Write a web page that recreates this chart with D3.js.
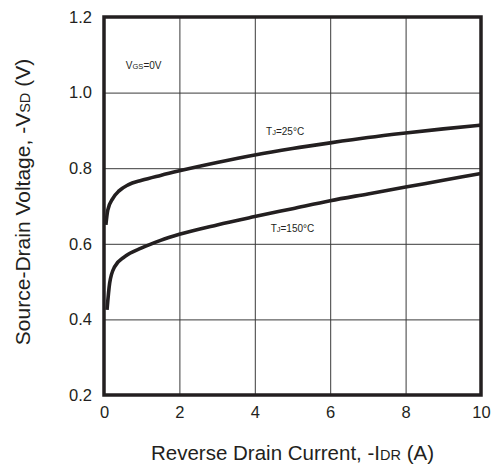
<!DOCTYPE html>
<html>
<head>
<meta charset="utf-8">
<script src="https://cdn.jsdelivr.net/npm/d3@7"></script>
<style>
  html, body { margin: 0; padding: 0; background: #fff; }
  svg { display: block; font-family: "Liberation Sans", Arial, sans-serif; }
</style>
</head>
<body>
<svg id="chart" width="496" height="465"></svg>
<script>
// Reverse drain current (A) and source-drain voltage (V) for each junction temperature
const current25 = [0.05, 0.1, 0.24, 0.4, 0.64, 1, 1.5, 2, 3, 4, 5, 6, 7, 8, 9, 10];
const voltage25 = [0.650, 0.689, 0.721, 0.740, 0.756, 0.768, 0.781, 0.793, 0.815, 0.835, 0.852, 0.867, 0.881, 0.893, 0.904, 0.914];

const current150 = [0.08, 0.15, 0.28, 0.55, 1, 1.5, 2, 3, 4, 5, 6, 7, 8, 9, 10];
const voltage150 = [0.425, 0.496, 0.539, 0.566, 0.589, 0.609, 0.625, 0.650, 0.672, 0.693, 0.714, 0.732, 0.750, 0.768, 0.786];

const xTicks = [0, 2, 4, 6, 8, 10];
const yTicks = [0.2, 0.4, 0.6, 0.8, 1.0, 1.2];

const svg = d3.select("#chart");
const plot = { left: 104, right: 481, top: 17, bottom: 395 };
const ink = "#231f20";
const font = "'Liberation Sans', Arial, sans-serif";

const x = d3.scaleLinear().domain([0, 10]).range([plot.left, plot.right]);
const y = d3.scaleLinear().domain([0.2, 1.2]).range([plot.bottom, plot.top]);

// grid lines
const grid = svg.append("g").attr("class", "grid");
grid.append("g")
  .attr("transform", `translate(0,${plot.bottom})`)
  .call(d3.axisBottom(x).tickValues(xTicks.slice(1, -1)).tickSize(-(plot.bottom - plot.top)).tickFormat(""))
  .call(g => g.select(".domain").remove())
  .call(g => g.selectAll("line").attr("stroke", "#3a3a3a").attr("stroke-width", 1));
grid.append("g")
  .attr("transform", `translate(${plot.left},0)`)
  .call(d3.axisLeft(y).tickValues(yTicks.slice(1, -1)).tickSize(-(plot.right - plot.left)).tickFormat(""))
  .call(g => g.select(".domain").remove())
  .call(g => g.selectAll("line").attr("stroke", "#3a3a3a").attr("stroke-width", 1));

// tick labels
svg.append("g")
  .attr("transform", `translate(0,${plot.bottom})`)
  .call(d3.axisBottom(x).tickValues(xTicks).tickSize(0).tickPadding(11).tickFormat(d3.format("d")))
  .call(g => g.select(".domain").remove())
  .call(g => g.selectAll("text").attr("font-size", 16.5).attr("fill", ink).attr("font-family", font));

svg.append("g")
  .attr("transform", `translate(${plot.left},0)`)
  .call(d3.axisLeft(y).tickValues(yTicks).tickSize(0).tickPadding(12).tickFormat(d3.format(".1f")))
  .call(g => g.select(".domain").remove())
  .call(g => g.selectAll("text").attr("font-size", 16.5).attr("fill", ink).attr("font-family", font));

// curves
const line = d3.line().x(d => x(d[0])).y(d => y(d[1])).curve(d3.curveMonotoneX);
const series = [
  d3.zip(current25, voltage25),
  d3.zip(current150, voltage150)
];
svg.append("g").selectAll("path").data(series).join("path")
  .attr("d", line)
  .attr("fill", "none")
  .attr("stroke", ink)
  .attr("stroke-width", 3.6)
  .attr("stroke-linecap", "butt");

// frame
svg.append("rect")
  .attr("x", plot.left).attr("y", plot.top)
  .attr("width", plot.right - plot.left).attr("height", plot.bottom - plot.top)
  .attr("fill", "none").attr("stroke", ink).attr("stroke-width", 3.5);

// annotations
function label(px, py, main, sub, rest) {
  const t = svg.append("text").attr("x", px).attr("y", py)
    .attr("font-size", 10).attr("fill", ink);
  t.append("tspan").text(main);
  t.append("tspan").attr("font-size", 7.5).text(sub);
  t.append("tspan").text(rest);
}
label(x(0.58), y(1.062), "V", "GS", "=0V");
label(x(4.3), y(0.888), "T", "J", "=25°C");
label(x(4.42), y(0.631), "T", "J", "=150°C");

// axis titles
const xt = svg.append("text")
  .attr("x", (plot.left + plot.right) / 2).attr("y", 460)
  .attr("text-anchor", "middle").attr("font-size", 20.5).attr("fill", ink);
xt.append("tspan").text("Reverse Drain Current, -I");
xt.append("tspan").attr("font-size", 14.5).text("DR");
xt.append("tspan").text(" (A)");

const yt = svg.append("text")
  .attr("transform", `translate(30,202) rotate(-90)`)
  .attr("text-anchor", "middle").attr("font-size", 21).attr("fill", ink);
yt.append("tspan").text("Source-Drain Voltage, -V");
yt.append("tspan").attr("font-size", 14.5).text("SD");
yt.append("tspan").text(" (V)");
</script>
</body>
</html>
